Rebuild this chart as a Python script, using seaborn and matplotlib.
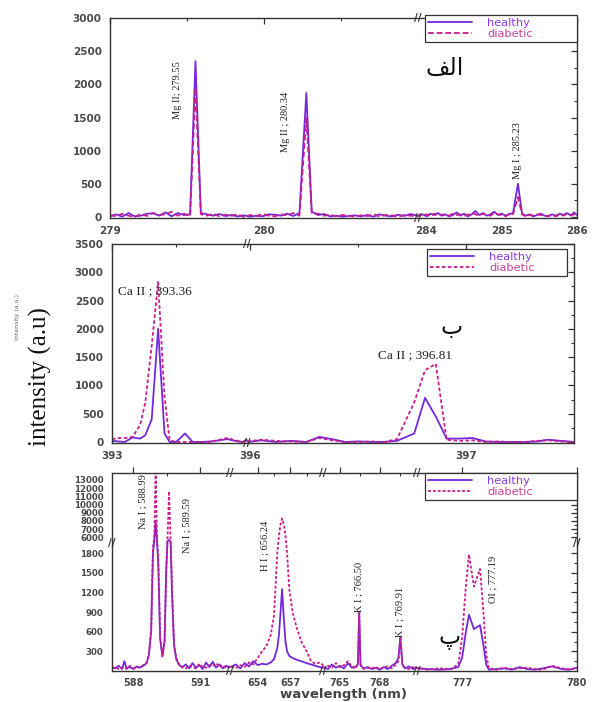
import numpy as np
import pandas as pd
import matplotlib
matplotlib.use("Agg")
import matplotlib.pyplot as plt
import matplotlib.transforms as mtransforms
import matplotlib.lines as mlines
from matplotlib.lines import Line2D
import seaborn as sns

# ---------------------------------------------------------------- data
samples = ["healthy", "diabetic"]

# (الف) Mg lines
wl_mg = [279.00, 279.04, 279.08, 279.12, 279.16, 279.20, 279.24, 279.28, 279.32, 279.36,
         279.40, 279.44, 279.48, 279.52, 279.555, 279.59, 279.63, 279.67, 279.71, 279.75,
         279.79, 279.83, 279.87, 279.91, 279.95, 279.99, 280.03, 280.07, 280.11, 280.15,
         280.19, 280.23, 280.275, 280.31, 280.35, 280.39, 280.43, 280.47, 280.51, 280.55,
         280.59, 280.63, 280.67, 280.71, 280.75, 280.79, 280.83, 280.87, 280.91, 280.95,
         281.00,
         283.90, 283.95, 284.00, 284.05, 284.10, 284.15, 284.20, 284.25, 284.30, 284.35,
         284.40, 284.45, 284.50, 284.55, 284.60, 284.65, 284.70, 284.75, 284.80, 284.85,
         284.90, 284.95, 285.00, 285.05, 285.10, 285.15, 285.215, 285.27, 285.32, 285.37,
         285.42, 285.47, 285.52, 285.57, 285.62, 285.67, 285.72, 285.77, 285.82, 285.87,
         285.92, 285.96, 286.00]
healthy_mg = [10, 40, 5, 60, 10, 20, 50, 55, 20, 70,
              10, 60, 30, 40, 2350, 60, 40, 20, 45, 15,
              30, 10, 25, 5, 20, 10, 40, 35, 20, 50,
              15, 60, 1870, 80, 30, 45, 10, 20, 5, 15,
              25, 10, 30, 5, 40, 20, 10, 35, 15, 45,
              20,
              20, 40, 10, 50, 30, 60, 20, 40, 10, 30,
              70, 20, 50, 10, 40, 90, 30, 60, 20, 40,
              80, 30, 50, 20, 40, 60, 500, 50, 20, 40,
              10, 30, 50, 20, 10, 40, 20, 50, 30, 60,
              20, 70, 30]
diabetic_mg = [30, 10, 50, 20, 0, 45, 15, 60, 30, 40,
               80, 20, 50, 10, 1950, 40, 20, 50, 10, 35,
               20, 40, 0, 30, 15, 45, 20, 10, 40, 25,
               60, 20, 1500, 60, 50, 20, 35, 10, 30, 20,
               5, 25, 15, 40, 10, 30, 25, 5, 30, 20,
               10,
               30, 20, 40, 10, 50, 20, 40, 30, 20, 50,
               30, 40, 20, 30, 60, 40, 20, 50, 30, 20,
               60, 40, 30, 10, 50, 40, 300, 40, 10, 30,
               20, 40, 30, 10, 20, 30, 10, 40, 20, 50,
               30, 40, 20]

# (ب) Ca lines
wl_ca = [393.00, 393.05, 393.10, 393.16, 393.22, 393.26, 393.31, 393.36, 393.41, 393.45,
         393.50, 393.57, 393.63, 393.70, 393.77, 393.84, 393.90, 393.96, 394.02, 394.05,
         395.99, 396.05, 396.12, 396.19, 396.26, 396.32, 396.38, 396.44, 396.50, 396.56,
         396.62, 396.68, 396.76, 396.81, 396.86, 396.91, 396.97, 397.03, 397.09, 397.15,
         397.21, 397.27, 397.33, 397.38, 397.44, 397.50]
healthy_ca = [20, 10, 0, 80, 60, 120, 400, 2000, 150, 0,
              0, 150, 0, 0, 10, 30, 50, 20, 0, 40,
              0, 30, 0, 20, 0, 90, 50, 0, 10, 0,
              0, 20, 150, 780, 450, 60, 60, 70, 10, 0,
              0, 0, 10, 40, 20, 0]
diabetic_ca = [50, 70, 70, 90, 300, 700, 1700, 2830, 800, 30,
               0, 0, 0, 0, 0, 40, 70, 30, 0, 20,
               10, 40, 20, 10, 0, 70, 30, 0, 0, 10,
               0, 50, 700, 1270, 1380, 40, 20, 30, 0, 10,
               0, 0, 20, 30, 10, 0]

# (پ) Na, H, K, O lines
wl_el = [587.05, 587.20, 587.35, 587.50, 587.60, 587.70, 587.85, 588.00, 588.15, 588.30,
         588.45, 588.60, 588.70, 588.80, 588.88, 588.94, 589.00, 589.06, 589.12, 589.20,
         589.30, 589.40, 589.47, 589.53, 589.60, 589.67, 589.73, 589.82, 589.92, 590.05,
         590.20, 590.35, 590.50, 590.65, 590.80, 590.95, 591.10, 591.25, 591.40, 591.55,
         591.70, 591.85, 592.00, 592.15, 592.30,
         651.5, 652.0, 652.4, 652.8, 653.2, 653.6, 654.0, 654.4, 654.8, 655.2,
         655.5, 655.8, 655.95, 656.1, 656.24, 656.4, 656.55, 656.7, 656.9, 657.2,
         657.6, 658.0, 658.5, 658.9, 659.3, 659.7, 660.0,
         763.8, 764.1, 764.4, 764.7, 765.0, 765.3, 765.6, 765.9, 766.2, 766.35,
         766.45, 766.55, 766.8, 767.1, 767.4, 767.7, 768.0, 768.3, 768.6, 768.9,
         769.2, 769.4, 769.55, 769.7, 769.9, 770.2, 770.5, 770.8,
         775.85, 776.1, 776.4, 776.7, 776.9, 777.0, 777.1, 777.18, 777.31, 777.47,
         777.57, 777.63, 777.7, 777.9, 778.1, 778.3, 778.5, 778.7, 778.9, 779.1,
         779.35, 779.6, 779.8, 780.0]
healthy_el = [60, 40, 80, 30, 150, 40, 60, 30, 70, 50,
              80, 120, 250, 600, 1800, 4500, 8000, 4500, 1600, 500,
              220, 450, 1500, 4000, 5000, 3500, 1200, 400, 180, 90,
              60, 100, 40, 120, 50, 90, 30, 130, 60, 140,
              50, 100, 40, 80, 60,
              60, 100, 40, 120, 70, 150, 90, 110, 100, 130,
              180, 350, 550, 900, 1250, 800, 450, 300, 230, 200,
              170, 150, 120, 100, 80, 60, 50,
              60, 30, 100, 50, 80, 40, 120, 50, 70, 100,
              900, 80, 40, 60, 30, 50, 20, 60, 30, 80,
              120, 200, 520, 100, 40, 70, 30, 50,
              40, 30, 20, 30, 60, 200, 600, 860, 640, 700,
              350, 100, 20, 30, 40, 20, 60, 30, 20, 40,
              70, 30, 20, 50]
diabetic_el = [40, 60, 30, 50, 60, 30, 80, 40, 50, 60,
               90, 130, 260, 650, 1900, 6000, 14500, 6000, 1700, 520,
               230, 470, 1550, 5500, 11600, 4000, 1300, 420, 200, 100,
               50, 40, 80, 60, 40, 110, 60, 50, 90, 70,
               120, 60, 90, 40, 70,
               80, 40, 90, 60, 130, 100, 200, 300, 380, 550,
               850, 1800, 6200, 7600, 8300, 7600, 6200, 1800, 1250, 900,
               650, 450, 300, 150, 110, 130, 90,
               40, 80, 50, 120, 60, 90, 150, 60, 40, 120,
               900, 100, 30, 50, 40, 60, 30, 50, 70, 40,
               100, 150, 500, 80, 50, 30, 60, 40,
               50, 20, 40, 30, 100, 500, 1300, 1780, 1290, 1560,
               800, 250, 40, 20, 50, 30, 40, 50, 30, 20,
               80, 40, 30, 40]

# ---------------------------------------------------------------- style
sns.set_theme(style="white")
plt.rcParams["font.family"] = ["DejaVu Sans"]

C_H = "#7428DC"
C_D = "#C81E8C"
TXT_H = "#8B3BE0"
TXT_D = "#D0409A"
TICK_C = "#4a4a4a"
SERIF = "Liberation Serif"

W, H = 593, 702
fig = plt.figure(figsize=(W / 100, H / 100), dpi=100)
fig.patch.set_facecolor("white")


def px_axes(l, t, r, b):
    return fig.add_axes([l / W, 1 - b / H, (r - l) / W, (b - t) / H])


def piecewise(data_pts, pos_pts):
    xp = np.asarray(data_pts, float)
    fp = np.asarray(pos_pts, float)
    s0 = (fp[1] - fp[0]) / (xp[1] - xp[0])
    s1 = (fp[-1] - fp[-2]) / (xp[-1] - xp[-2])
    big = 1e5
    xp2 = np.r_[xp[0] - big, xp, xp[-1] + big]
    fp2 = np.r_[fp[0] - big * s0, fp, fp[-1] + big * s1]

    def fwd(v):
        return np.interp(np.asarray(v, float), xp2, fp2)

    def inv(u):
        return np.interp(np.asarray(u, float), fp2, xp2)

    return fwd, inv


def draw_lines(ax, wl, h, d, dash):
    df = pd.DataFrame({
        "wavelength": list(wl) + list(wl),
        "intensity": list(h) + list(d),
        "sample": [samples[0]] * len(wl) + [samples[1]] * len(wl),
    })
    sns.lineplot(data=df, x="wavelength", y="intensity", hue="sample", style="sample",
                 hue_order=samples, style_order=samples,
                 palette={"healthy": C_H, "diabetic": C_D},
                 dashes={"healthy": "", "diabetic": dash},
                 sort=False, estimator=None, linewidth=1.3, ax=ax, legend=False)
    ax.set_xlabel("")
    ax.set_ylabel("")


def style_axes(ax, ylab_size=7.5, xlab_size=7.5):
    for sp in ax.spines.values():
        sp.set_color("#333333")
        sp.set_linewidth(1.0)
    ax.tick_params(which="both", direction="out", top=True, right=True,
                   labeltop=False, labelright=False, colors="#333333",
                   labelcolor=TICK_C, pad=2)
    ax.tick_params(which="major", length=4, width=0.9)
    ax.tick_params(which="minor", length=2.2, width=0.8)
    ax.tick_params(axis="x", labelsize=xlab_size)
    ax.tick_params(axis="y", labelsize=ylab_size)
    for lbl in ax.get_xticklabels() + ax.get_yticklabels():
        lbl.set_fontweight("bold")
    for tk in ax.xaxis.get_major_ticks() + ax.xaxis.get_minor_ticks():
        tk.tick2line.set_marker(mlines.TICKDOWN)
    for tk in ax.yaxis.get_major_ticks() + ax.yaxis.get_minor_ticks():
        tk.tick2line.set_marker(mlines.TICKLEFT)
    ax.grid(False)


def add_legend(ax, bbox, dash):
    handles = [Line2D([], [], color=C_H, lw=1.3),
               Line2D([], [], color=C_D, lw=1.3, dashes=dash)]
    leg = ax.legend(handles, samples, loc="upper left", bbox_to_anchor=bbox,
                    mode="expand", borderaxespad=0, frameon=True, fancybox=False,
                    edgecolor="#333333", framealpha=1, fontsize=8.2,
                    handlelength=3.9, handletextpad=1.3, borderpad=0.25,
                    labelspacing=0.1)
    leg.get_frame().set_linewidth(0.9)
    for t, c in zip(leg.get_texts(), [TXT_H, TXT_D]):
        t.set_color(c)
    return leg


def xbreak(ax, xb):
    tr = mtransforms.blended_transform_factory(ax.transData, ax.transAxes)
    for yy in (0, 1):
        ax.text(xb, yy, "//", transform=tr, ha="center", va="center", fontsize=7.5,
                color="#333333", fontweight="bold", clip_on=False, zorder=5)


def ybreak(ax, yb):
    tr = mtransforms.blended_transform_factory(ax.transAxes, ax.transData)
    for xx in (0, 1):
        ax.text(xx, yb, "//", transform=tr, ha="center", va="center", fontsize=7.5,
                color="#333333", fontweight="bold", clip_on=False, zorder=5)


def blend(ax):
    return mtransforms.blended_transform_factory(ax.transData, ax.transAxes)


# ---------------------------------------------------------------- panel 1 (Mg)
ax1 = px_axes(110, 18, 577, 218)
draw_lines(ax1, wl_mg, healthy_mg, diabetic_mg, (3.2, 1.6))
ax1.set_xscale("function", functions=piecewise([279.0, 281.0, 283.9, 286.0],
                                               [110, 418, 419, 577]))
ax1.set_xlim(279.0, 286.0)
ax1.set_ylim(-15, 3000)
ax1.set_xticks([279, 280, 284, 285, 286], ["279", "280", "284", "285", "286"])
ax1.set_xticks([279.5, 280.5, 284.5, 285.5], minor=True)
ax1.set_yticks(np.arange(0, 3001, 500))
ax1.set_yticks(np.arange(250, 3000, 500), minor=True)
style_axes(ax1)
xbreak(ax1, 281.0)
add_legend(ax1, (0.6745, 0.865, 0.3255, 0.15), (3.2, 1.6))
t1 = blend(ax1)
ax1.text(279.44, 0.64, "Mg II; 279.55", transform=t1, rotation=90, ha="center",
         va="center", family=SERIF, fontsize=7.5, color="#222222")
ax1.text(280.14, 0.48, "Mg II ; 280.34", transform=t1, rotation=90, ha="center",
         va="center", family=SERIF, fontsize=7.5, color="#222222")
ax1.text(285.215, 0.335, "Mg I ; 285.23", transform=t1, rotation=90, ha="center",
         va="center", family=SERIF, fontsize=7.5, color="#222222")

# ---------------------------------------------------------------- panel 2 (Ca)
ax2 = px_axes(112, 244, 574, 443)
draw_lines(ax2, wl_ca, healthy_ca, diabetic_ca, (2.0, 1.3))
ax2.set_xscale("function", functions=piecewise([393.0, 394.05, 395.99, 397.5],
                                               [112, 246.5, 248, 574]))
ax2.set_xlim(393.0, 397.5)
ax2.set_ylim(-18, 3500)
ax2.set_xticks([393, 396, 397], ["393", "396", "397"])
ax2.set_xticks([393.5, 396.5], minor=True)
ax2.set_yticks(np.arange(0, 3501, 500))
ax2.set_yticks(np.arange(250, 3500, 500), minor=True)
style_axes(ax2)
xbreak(ax2, 394.05)
add_legend(ax2, (0.682, 0.834, 0.303, 0.14), (2.0, 1.3))
t2 = blend(ax2)
ax2.text(393.05, 0.765, "Ca II ; 393.36", transform=t2, ha="left", va="center",
         family=SERIF, fontsize=9.5, color="#222222")
ax2.text(396.59, 0.44, "Ca II ; 396.81", transform=t2, ha="left", va="center",
         family=SERIF, fontsize=9.5, color="#222222")

# ---------------------------------------------------------------- panel 3 (Na, H, K, O)
ax3 = px_axes(112, 473, 577, 671)
draw_lines(ax3, wl_el, healthy_el, diabetic_el, (1.6, 1.1))
ax3.set_xscale("function", functions=piecewise(
    [587.05, 592.3, 651.5, 660.0, 763.8, 770.8, 775.85, 780.0],
    [112, 229.5, 230.5, 323, 324, 417, 418, 577]))
ax3.set_yscale("function", functions=piecewise([0, 1950, 5800, 13850],
                                               [0, 129, 133.3, 200]))
ax3.set_xlim(587.05, 780.0)
ax3.set_ylim(0, 13850)
ax3.set_xticks([588, 591, 654, 657, 765, 768, 777, 780],
               ["588", "591", "654", "657", "765", "768", "777", "780"])
ax3.set_xticks([589.5, 655.5, 658.5, 766.5, 769.5, 778.5], minor=True)
yt3 = [300, 600, 900, 1200, 1500, 1800, 6000, 7000, 8000, 9000, 10000, 11000, 12000, 13000]
ax3.set_yticks(yt3, [str(v) for v in yt3])
ax3.set_yticks([150, 450, 750, 1050, 1350, 1650, 6500, 7500, 8500, 9500, 10500, 11500,
                12500, 13500], minor=True)
style_axes(ax3, ylab_size=6.2, xlab_size=7)
ax3.tick_params(axis="x", pad=1)
for xb in (592.3, 660.0, 770.8):
    xbreak(ax3, xb)
ybreak(ax3, 1950)
add_legend(ax3, (0.673, 0.869, 0.327, 0.131), (1.6, 1.1))
t3 = blend(ax3)
for xx, yy, s in [(588.43, 0.854, "Na I ; 588.99"), (590.40, 0.737, "Na I ; 589.59"),
                  (654.67, 0.631, "H I ; 656.24"), (766.45, 0.424, "K I ; 766.50"),
                  (769.55, 0.298, "K I ; 769.91"), (777.81, 0.465, "OI ; 777.19")]:
    ax3.text(xx, yy, s, transform=t3, rotation=90, ha="center", va="center",
             family=SERIF, fontsize=7.5, color="#222222")

# ---------------------------------------------------------------- figure texts
fig.text(40 / W, 1 - 377 / H, "intensity (a.u)", rotation=90, ha="center", va="center",
         family=SERIF, fontsize=18, color="#111111")
fig.text(17 / W, 1 - 317 / H, "intensity (a.u.)", rotation=90, ha="center", va="center",
         fontsize=4.5, color="#666666")
fig.text(344 / W, 1 - 694.5 / H, "wavelength (nm)", ha="center", va="center",
         fontsize=9.5, fontweight="bold", color="#444444")
fig.text(445 / W, 1 - 68 / H, "\uFED2\uFEDF\uFE8D", ha="center", va="center",
         fontsize=17, color="#111111", family=["DejaVu Sans"])
fig.text(452 / W, 1 - 327 / H, "ب", ha="center", va="center",
         fontsize=17, color="#111111", family=["DejaVu Sans"])
fig.text(450 / W, 1 - 638 / H, "پ", ha="center", va="center",
         fontsize=17, color="#111111", family=["DejaVu Sans"])

fig.savefig("out.png", dpi=100, facecolor="white")
